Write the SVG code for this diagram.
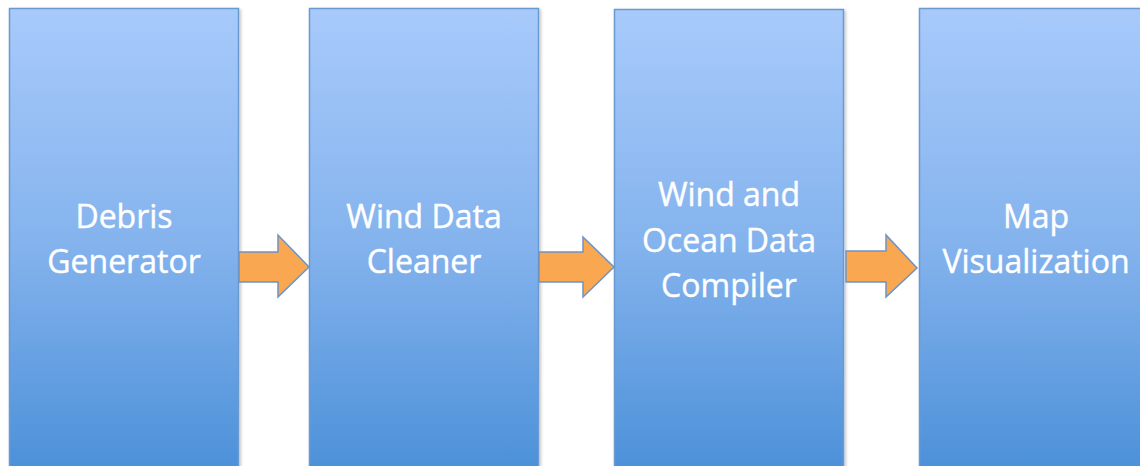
<svg xmlns="http://www.w3.org/2000/svg" width="1140" height="466" viewBox="0 0 1140 466">
  <defs>
    <linearGradient id="boxFill" x1="0" y1="0" x2="0" y2="1">
      <stop offset="0" stop-color="#a8cafb"/>
      <stop offset="0.5" stop-color="#84b3ed"/>
      <stop offset="1" stop-color="#4a8fd8"/>
    </linearGradient>
    <filter id="shadow" x="-10%" y="-10%" width="120%" height="120%">
      <feDropShadow dx="1.5" dy="1.5" stdDeviation="1.5" flood-color="#000" flood-opacity="0.25"/>
    </filter>
  </defs>
  <style>
    .box { fill: url(#boxFill); stroke: #6b9ad2; stroke-width: 1.5; filter: url(#shadow); }
    .label { font-family: "Open Sans", "Liberation Sans", sans-serif; font-size: 32px; font-weight: 400; fill: #ffffff; stroke: #ffffff; stroke-width: 0.4; text-anchor: middle; }
    .arrow { fill: #f9a750; stroke: #6e94c2; stroke-width: 1.5; stroke-linejoin: miter; }
  </style>

  <rect width="1140" height="466" fill="#ffffff"/>

  <g id="debris-generator">
    <rect class="box" x="9.5" y="8.5" width="229" height="470"/>
    <text class="label" x="124" y="228">Debris</text>
    <text class="label" x="124" y="273">Generator</text>
  </g>

  <g id="wind-data-cleaner">
    <rect class="box" x="309.5" y="8.5" width="229" height="470"/>
    <text class="label" x="424" y="228">Wind Data</text>
    <text class="label" x="424" y="273">Cleaner</text>
  </g>

  <g id="wind-ocean-compiler">
    <rect class="box" x="614.5" y="9.5" width="229" height="470"/>
    <text class="label" x="729" y="206">Wind and</text>
    <text class="label" x="729" y="252">Ocean Data</text>
    <text class="label" x="729" y="297">Compiler</text>
  </g>

  <g id="map-visualization">
    <rect class="box" x="919.5" y="8.5" width="229" height="470"/>
    <text class="label" x="1036" y="228">Map</text>
    <text class="label" x="1036" y="273">Visualization</text>
  </g>

  <g id="connectors">
    <polygon class="arrow" points="239,252 278,252 278,235 309,267 278,297 278,282 239,282"/>
    <polygon class="arrow" points="539,252 583,252 583,237 614,267 583,297 583,282 539,282"/>
    <polygon class="arrow" points="846,251 886,251 886,235 917,268 886,297 886,282 846,282"/>
  </g>
</svg>
